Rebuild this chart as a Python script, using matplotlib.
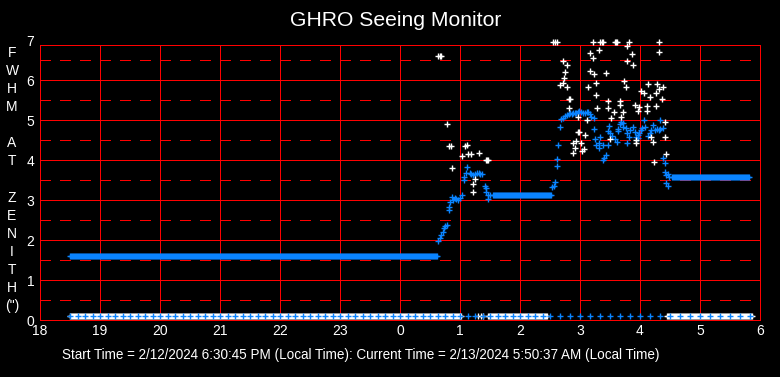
import numpy as np
import matplotlib
matplotlib.use("Agg")
import matplotlib.pyplot as plt

plt.rcParams['font.family'] = ['Liberation Sans', 'DejaVu Sans']
plt.rcParams['lines.scale_dashes'] = False

# ---------------- data ----------------
hour_ticks = list(range(18, 31))
hour_labels = ['18', '19', '20', '21', '22', '23', '0', '1', '2', '3', '4', '5', '6']
y_ticks = [0, 1, 2, 3, 4, 5, 6, 7]

# constant (flat) stretches of the corrected FWHM series: (start hour, end hour, value)
blue_flat = [(18.50, 24.63, 1.60),
             (25.55, 26.53, 3.12),
             (28.55, 29.83, 3.57)]

# scattered corrected FWHM (blue)
blue_t = [24.64, 24.67, 24.69, 24.71, 24.73, 24.75, 24.78, 24.81, 24.81, 24.83, 24.86, 24.89,
          24.92, 24.94, 24.97, 25.00, 25.03, 25.06, 25.07, 25.10, 25.12, 25.16, 25.19, 25.22,
          25.25, 25.28, 25.31, 25.33, 25.37, 25.41, 25.43, 25.44, 25.46, 25.47, 25.50,
          26.54, 26.56, 26.58, 26.61, 26.62, 26.64, 26.66, 26.68, 26.72, 26.75, 26.78, 26.81,
          26.83, 26.86, 26.89, 26.92, 26.94, 26.97, 26.99, 27.01, 27.05, 27.08, 27.11, 27.14,
          27.17, 27.19, 27.23,
          27.24, 27.33, 27.25, 27.31, 27.27, 27.38, 27.46, 27.31, 27.43, 27.40, 27.39, 27.49,
          27.47, 27.50, 27.54, 27.58, 27.61, 27.63, 27.64, 27.67, 27.68, 27.71, 27.72, 27.77,
          27.78, 27.81, 27.79, 27.83, 27.88, 27.91, 27.93, 27.96, 27.97, 27.99, 28.01, 28.04,
          28.07, 28.09, 28.14, 28.17, 28.19, 28.22, 28.25, 28.28, 28.31, 28.33, 28.34, 28.38,
          28.39, 28.42, 28.42, 28.44, 28.47, 28.44, 28.46, 28.49, 28.53]
blue_v = [1.98, 2.04, 2.13, 2.21, 2.29, 2.35, 2.38, 2.83, 2.75, 2.96, 3.08, 3.00,
          3.04, 3.02, 3.00, 3.04, 3.13, 3.50, 3.57, 3.68, 3.82, 3.68, 3.65, 3.63,
          3.65, 3.67, 3.68, 3.65, 3.65, 3.35, 3.29, 3.21, 3.13, 3.02, 3.13,
          3.33, 3.35, 3.46, 3.85, 4.02, 4.37, 4.82, 5.02, 5.04, 5.10, 5.12, 5.15,
          5.17, 5.15, 5.17, 5.18, 5.18, 5.21, 5.23, 5.21, 5.17, 5.17, 5.21, 5.21,
          5.15, 5.08, 5.05,
          4.77, 4.57, 4.52, 4.42, 4.38, 4.38, 4.38, 4.29, 4.13, 4.04, 4.00, 4.86,
          4.73, 4.67, 4.60, 4.52, 4.46, 4.73, 4.78, 4.89, 4.96, 4.92, 4.83, 4.79,
          4.67, 4.57, 4.42, 4.75, 4.83, 4.71, 4.58, 4.54, 4.63, 4.67, 4.75, 4.79,
          5.00, 4.83, 4.60, 4.67, 4.75, 4.88, 4.75, 4.77, 4.75, 5.00, 4.78, 4.79,
          4.04, 3.93, 3.71, 3.63, 3.65, 3.43, 3.35, 3.58, 3.58]

# raw FWHM (white)
white_t = [24.63, 24.66, 24.69, 24.78, 24.81, 24.85, 25.08, 25.11, 25.03, 25.14, 25.18, 25.31,
           24.87, 25.21, 25.22, 25.25, 25.43, 25.45, 25.46,
           26.55, 26.58, 26.61, 27.22, 27.33, 27.36, 27.39, 27.58, 27.60, 27.62, 27.82, 28.31,
           26.72, 26.78, 26.75, 26.74, 26.71, 26.66, 26.79, 26.82, 26.84, 26.82, 26.96, 26.99,
           26.97, 26.88, 26.93, 27.01, 26.92, 26.89, 27.07, 27.04, 27.09, 27.12, 27.16, 27.21,
           27.31, 27.17, 27.24, 27.43, 27.14, 27.27, 27.26, 27.29, 27.46, 27.47, 27.56, 27.52,
           27.66, 27.67, 27.72, 27.69, 27.79, 27.86, 27.78, 27.89, 27.73, 27.76, 27.91, 27.97,
           27.99, 28.01, 28.06, 28.11, 28.12, 28.14, 28.17, 28.26, 28.27, 28.29, 28.32, 28.36,
           28.39, 28.32, 28.41, 28.42, 27.50, 27.94, 28.19, 28.22, 27.93, 28.43, 28.24]
white_v = [6.60, 6.60, 6.60, 4.89, 4.34, 4.34, 4.34, 4.37, 4.09, 4.14, 4.14, 4.17,
           3.79, 3.39, 3.19, 3.52, 3.99, 3.99, 3.99,
           6.95, 6.95, 6.95, 6.95, 6.95, 6.95, 6.95, 6.95, 6.95, 6.95, 6.95, 6.95,
           6.48, 6.38, 6.19, 6.04, 5.93, 5.88, 5.83, 5.52, 5.52, 5.29, 5.07, 4.71,
           4.69, 4.43, 4.48, 4.43, 4.29, 4.17, 4.27, 4.23, 4.62, 5.00, 6.67, 6.54,
           6.75, 6.23, 6.14, 6.17, 5.83, 5.92, 5.62, 5.29, 5.29, 5.48, 5.20, 5.06,
           5.47, 5.37, 5.21, 5.07, 6.85, 6.65, 6.48, 6.37, 5.97, 5.83, 5.37, 5.22,
           5.32, 5.73, 5.67, 5.22, 5.35, 5.90, 5.57, 5.35, 5.67, 5.90, 5.77, 5.53,
           5.82, 6.69, 4.95, 4.57, 4.52, 4.50, 4.57, 4.44, 4.42, 4.14, 3.94]

# readings sitting on the bottom row
zero_level = 0.1
white_zero_spans = [(18.50, 25.03), (25.47, 26.47), (28.45, 29.87)]
white_zero_extra = [25.30, 25.35, 25.38]
blue_zero_spans = [(18.50, 26.50, 7.5), (26.50, 29.85, 10.0)]  # (start, end, spacing in minutes)

footer = ("Start Time = 2/12/2024 6:30:45 PM (Local Time): "
          "Current Time = 2/13/2024 5:50:37 AM (Local Time)")
ylabel_chars = ['F', 'W', 'H', 'M', '', 'A', 'T', '', 'Z', 'E', 'N', 'I', 'T', 'H', '(")']

# ---------------- figure ----------------
W, H = 780, 377
fig = plt.figure(figsize=(W / 100, H / 100), dpi=100, facecolor='black')
ax = fig.add_axes([40 / W, (H - 320) / H, 720 / W, 280 / H])
ax.set_facecolor('black')
ax.set_xlim(18, 30)
ax.set_ylim(0, 7)
for s in ax.spines.values():
    s.set_visible(False)

top = 6.875
red = '#ff0000'
glw = 0.72
# grid / frame
ax.vlines(hour_ticks, 0, top, colors=red, lw=glw, zorder=1, antialiased=False, clip_on=False)
ax.hlines([0, 1, 2, 3, 4, 5, 6, top], 18, 30, colors=red, lw=glw, zorder=1,
          antialiased=False, clip_on=False)
for yv in [0.5, 1.5, 2.5, 3.5, 4.5, 5.5, 6.5]:
    ax.plot([18, 30], [yv, yv], color=red, lw=glw, linestyle=(0, (7.6, 6.8)),
            dash_capstyle='butt', zorder=1, antialiased=False, clip_on=False)

ax.set_xticks(hour_ticks)
ax.set_xticklabels(hour_labels)
ax.set_yticks(y_ticks)
ax.set_yticklabels([str(v) for v in y_ticks])
ax.tick_params(length=0, colors='white', labelsize=10)
ax.tick_params(axis='x', pad=3)
ax.tick_params(axis='y', pad=4)

mk = dict(marker='+', linestyle='none', markersize=4.3, markeredgewidth=1.0, clip_on=False)
blue = '#0a84ff'

# bottom row
wz_t = np.concatenate([np.arange(a, b, 1 / 60) for a, b in white_zero_spans] + [np.array(white_zero_extra)])
ax.plot(wz_t, np.full(len(wz_t), zero_level), color='white', zorder=3, **mk)
bz_t = np.concatenate([np.arange(a, b, s / 60) for a, b, s in blue_zero_spans])
ax.plot(bz_t, np.full(len(bz_t), zero_level), color=blue, zorder=4, **mk)

# blue flat + scattered
for a, b, v in blue_flat:
    t = np.arange(a, b, 1 / 60)
    ax.plot(t, np.full(len(t), v), color=blue, zorder=3, **mk)
ax.plot(blue_t, blue_v, color=blue, zorder=3, **mk)
ax.plot(white_t, white_v, color='white', zorder=4, **mk)

def px(x, y):
    return x / W, 1 - y / H

fig.text(*px(396, 20), 'GHRO Seeing Monitor', color='white', fontsize=15.2,
         ha='center', va='center')
for i, ch in enumerate(ylabel_chars):
    if ch:
        fig.text(*px(12, 53 + i * 18.07), ch, color='white', fontsize=10,
                 ha='center', va='center')
fig.text(*px(62, 355), footer, color='white', fontsize=9.75, ha='left', va='center')

fig.savefig('out.png', dpi=100, facecolor='black')
